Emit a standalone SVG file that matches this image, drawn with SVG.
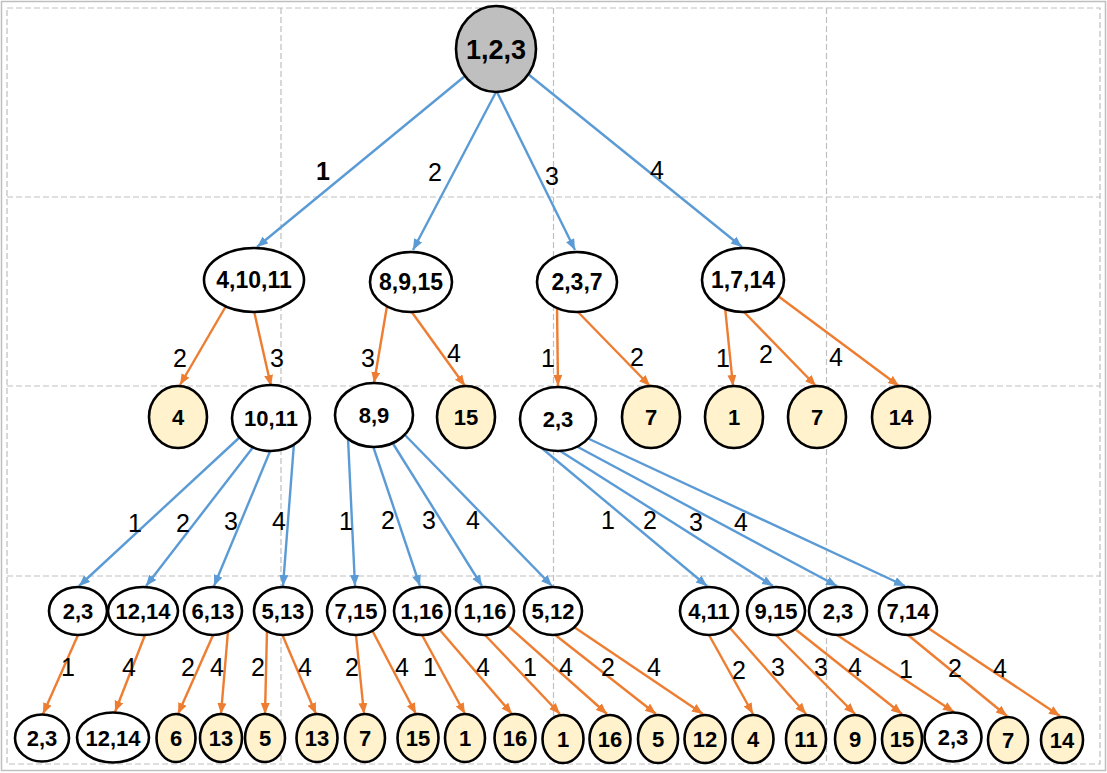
<svg xmlns="http://www.w3.org/2000/svg" width="1107" height="773" viewBox="0 0 1107 773">
  <style>
    .grid { stroke: #BFBFBF; stroke-width: 1.2; stroke-dasharray: 6 3; fill: none; }
    .frame { stroke: #BFBFBF; stroke-width: 1.5; fill: #FFFFFF; }
    .node { stroke: #000000; stroke-width: 2.6; fill: #FFFFFF; }
    .leaf { stroke: #000000; stroke-width: 2.6; fill: #FFF2CC; }
    .root { stroke: #000000; stroke-width: 2.6; fill: #BFBFBF; }
    .blue { stroke: #5B9BD5; stroke-width: 2.4; fill: none; marker-end: url(#arrowBlue); }
    .orange { stroke: #ED7D31; stroke-width: 2.4; fill: none; marker-end: url(#arrowOrange); }
    text { font-family: "Liberation Sans", Arial, sans-serif; fill: #000000; text-anchor: middle; }
    .lbl { font-weight: bold; }
    .edge { font-size: 25px; }
    .l1 { font-size: 23px; }
    .l2 { font-size: 22px; }
    .l3 { font-size: 22px; }
  </style>
  <defs>
    <marker id="arrowBlue" markerUnits="userSpaceOnUse" markerWidth="12" markerHeight="10" refX="11" refY="4.5" orient="auto">
      <path d="M0,0 L11,4.5 L0,9 z" fill="#5B9BD5"/>
    </marker>
    <marker id="arrowOrange" markerUnits="userSpaceOnUse" markerWidth="12" markerHeight="10" refX="11" refY="4.5" orient="auto">
      <path d="M0,0 L11,4.5 L0,9 z" fill="#ED7D31"/>
    </marker>
  </defs>

  <!-- background frame and dashed layout grid -->
  <g id="grid">
    <rect class="frame" x="1.5" y="1.5" width="1104" height="769"/>
    <rect class="grid" x="7" y="8" width="1093" height="756"/>
    <line class="grid" x1="7" y1="197" x2="1100" y2="197"/>
    <line class="grid" x1="7" y1="386" x2="1100" y2="386"/>
    <line class="grid" x1="7" y1="576" x2="1100" y2="576"/>
    <line class="grid" x1="281" y1="8" x2="281" y2="764"/>
    <line class="grid" x1="553.5" y1="8" x2="553.5" y2="764"/>
    <line class="grid" x1="826.5" y1="8" x2="826.5" y2="764"/>
  </g>

  <!-- connectors -->
  <g id="connectors">
    <!-- root to level 1 -->
    <line class="blue" x1="465" y1="76" x2="257" y2="247"/>
    <line class="blue" x1="496" y1="92" x2="413" y2="250"/>
    <line class="blue" x1="497" y1="92" x2="575" y2="250"/>
    <line class="blue" x1="528" y1="74" x2="742" y2="247"/>
    <!-- level 1 to level 2 -->
    <line class="orange" x1="226" y1="306" x2="180" y2="385"/>
    <line class="orange" x1="254" y1="311" x2="271" y2="386"/>
    <line class="orange" x1="387" y1="306" x2="374" y2="383"/>
    <line class="orange" x1="411" y1="311" x2="465" y2="386"/>
    <line class="orange" x1="557" y1="306" x2="558" y2="386"/>
    <line class="orange" x1="577" y1="311" x2="650" y2="386"/>
    <line class="orange" x1="725" y1="307" x2="733" y2="386"/>
    <line class="orange" x1="743" y1="311" x2="816" y2="386"/>
    <line class="orange" x1="778" y1="296" x2="899" y2="386"/>
    <!-- level 2 to level 3 -->
    <line class="blue" x1="240" y1="437" x2="79" y2="586"/>
    <line class="blue" x1="254" y1="446" x2="146" y2="586"/>
    <line class="blue" x1="271" y1="449" x2="214" y2="586"/>
    <line class="blue" x1="294" y1="443" x2="283" y2="586"/>
    <line class="blue" x1="348" y1="438" x2="355" y2="586"/>
    <line class="blue" x1="373" y1="446" x2="420" y2="586"/>
    <line class="blue" x1="392" y1="442" x2="482" y2="586"/>
    <line class="blue" x1="404" y1="434" x2="552" y2="586"/>
    <line class="blue" x1="538" y1="445" x2="707" y2="586"/>
    <line class="blue" x1="557" y1="449" x2="773" y2="586"/>
    <line class="blue" x1="576" y1="446" x2="837" y2="586"/>
    <line class="blue" x1="587" y1="438" x2="905" y2="586"/>
    <!-- level 3 to level 4 -->
    <line class="orange" x1="78" y1="635" x2="43" y2="714"/>
    <line class="orange" x1="145" y1="635" x2="115" y2="712"/>
    <line class="orange" x1="214" y1="633" x2="178" y2="714"/>
    <line class="orange" x1="228" y1="631" x2="221" y2="714"/>
    <line class="orange" x1="267" y1="630" x2="265" y2="714"/>
    <line class="orange" x1="282" y1="634" x2="316" y2="714"/>
    <line class="orange" x1="356" y1="635" x2="364" y2="714"/>
    <line class="orange" x1="372" y1="630" x2="416" y2="714"/>
    <line class="orange" x1="422" y1="635" x2="465" y2="714"/>
    <line class="orange" x1="439" y1="629" x2="512" y2="714"/>
    <line class="orange" x1="485" y1="635" x2="560" y2="714"/>
    <line class="orange" x1="507" y1="625" x2="607" y2="714"/>
    <line class="orange" x1="554" y1="634" x2="656" y2="714"/>
    <line class="orange" x1="574" y1="627" x2="703" y2="714"/>
    <line class="orange" x1="709" y1="635" x2="753" y2="714"/>
    <line class="orange" x1="730" y1="628" x2="806" y2="714"/>
    <line class="orange" x1="776" y1="635" x2="855" y2="714"/>
    <line class="orange" x1="795" y1="629" x2="902" y2="714"/>
    <line class="orange" x1="837" y1="635" x2="954" y2="712"/>
    <line class="orange" x1="908" y1="635" x2="1007" y2="716"/>
    <line class="orange" x1="928" y1="628" x2="1060" y2="716"/>

    <!-- edge labels -->
    <g class="edge">
      <text x="323" y="180" font-weight="bold">1</text>
      <text x="435" y="181">2</text>
      <text x="552" y="185">3</text>
      <text x="657" y="179">4</text>

      <text x="180" y="367">2</text>
      <text x="277" y="367">3</text>
      <text x="368" y="367">3</text>
      <text x="454" y="362">4</text>
      <text x="548" y="367">1</text>
      <text x="637" y="366">2</text>
      <text x="723" y="367">1</text>
      <text x="766" y="363">2</text>
      <text x="836" y="366">4</text>

      <text x="135" y="532">1</text>
      <text x="183" y="532">2</text>
      <text x="231" y="530">3</text>
      <text x="279" y="530">4</text>
      <text x="346" y="530">1</text>
      <text x="388" y="529">2</text>
      <text x="429" y="529">3</text>
      <text x="473" y="529">4</text>
      <text x="608" y="529">1</text>
      <text x="650" y="529">2</text>
      <text x="696" y="531">3</text>
      <text x="741" y="531">4</text>

      <text x="68" y="676">1</text>
      <text x="129" y="676">4</text>
      <text x="188" y="676">2</text>
      <text x="217" y="676">4</text>
      <text x="258" y="676">2</text>
      <text x="305" y="676">4</text>
      <text x="352" y="676">2</text>
      <text x="402" y="676">4</text>
      <text x="430" y="676">1</text>
      <text x="483" y="676">4</text>
      <text x="530" y="676">1</text>
      <text x="566" y="676">4</text>
      <text x="608" y="676">2</text>
      <text x="654" y="676">4</text>
      <text x="739" y="679">2</text>
      <text x="778" y="676">3</text>
      <text x="821" y="676">3</text>
      <text x="855" y="676">4</text>
      <text x="906" y="678">1</text>
      <text x="955" y="677">2</text>
      <text x="1000" y="677">4</text>
    </g>
  </g>

  <!-- root -->
  <g id="n-root">
    <ellipse class="root" cx="496" cy="49" rx="40" ry="43"/>
    <text class="lbl" x="496" y="59" font-size="27">1,2,3</text>
  </g>

  <!-- level 1 -->
  <g id="n-4-10-11"><ellipse class="node" cx="254" cy="280" rx="50" ry="32"/><text class="lbl l1" x="254" y="288">4,10,11</text></g>
  <g id="n-8-9-15"><ellipse class="node" cx="411" cy="282" rx="41" ry="30"/><text class="lbl l1" x="411" y="290">8,9,15</text></g>
  <g id="n-2-3-7"><ellipse class="node" cx="577" cy="282" rx="40" ry="30"/><text class="lbl l1" x="577" y="290">2,3,7</text></g>
  <g id="n-1-7-14"><ellipse class="node" cx="743" cy="280" rx="41" ry="32"/><text class="lbl l1" x="743" y="288">1,7,14</text></g>

  <!-- level 2 -->
  <g id="n-l2-4"><ellipse class="leaf" cx="178" cy="417" rx="29" ry="31"/><text class="lbl l2" x="178" y="425">4</text></g>
  <g id="n-10-11"><ellipse class="node" cx="271" cy="418" rx="39" ry="33"/><text class="lbl l2" x="271" y="426">10,11</text></g>
  <g id="n-8-9"><ellipse class="node" cx="374" cy="415" rx="39" ry="32"/><text class="lbl l2" x="374" y="423">8,9</text></g>
  <g id="n-l2-15"><ellipse class="leaf" cx="466" cy="417" rx="29" ry="31"/><text class="lbl l2" x="466" y="425">15</text></g>
  <g id="n-l2-2-3"><ellipse class="node" cx="558" cy="419" rx="38" ry="32"/><text class="lbl l2" x="558" y="427">2,3</text></g>
  <g id="n-l2-7a"><ellipse class="leaf" cx="651" cy="417" rx="29" ry="31"/><text class="lbl l2" x="651" y="425">7</text></g>
  <g id="n-l2-1"><ellipse class="leaf" cx="734" cy="417" rx="29" ry="31"/><text class="lbl l2" x="734" y="425">1</text></g>
  <g id="n-l2-7b"><ellipse class="leaf" cx="817" cy="417" rx="29" ry="31"/><text class="lbl l2" x="817" y="425">7</text></g>
  <g id="n-l2-14"><ellipse class="leaf" cx="901" cy="417" rx="29" ry="31"/><text class="lbl l2" x="901" y="425">14</text></g>

  <!-- level 3 -->
  <g id="n-l3-2-3a"><ellipse class="node" cx="78" cy="611" rx="29" ry="24"/><text class="lbl l3" x="78" y="619">2,3</text></g>
  <g id="n-l3-12-14"><ellipse class="node" cx="143" cy="611" rx="35" ry="24"/><text class="lbl l3" x="143" y="619">12,14</text></g>
  <g id="n-l3-6-13"><ellipse class="node" cx="213" cy="611" rx="29" ry="24"/><text class="lbl l3" x="213" y="619">6,13</text></g>
  <g id="n-l3-5-13"><ellipse class="node" cx="283" cy="611" rx="29" ry="24"/><text class="lbl l3" x="283" y="619">5,13</text></g>
  <g id="n-l3-7-15"><ellipse class="node" cx="356" cy="611" rx="29" ry="24"/><text class="lbl l3" x="356" y="619">7,15</text></g>
  <g id="n-l3-1-16a"><ellipse class="node" cx="422" cy="611" rx="28" ry="24"/><text class="lbl l3" x="422" y="619">1,16</text></g>
  <g id="n-l3-1-16b"><ellipse class="node" cx="485" cy="611" rx="29" ry="24"/><text class="lbl l3" x="485" y="619">1,16</text></g>
  <g id="n-l3-5-12"><ellipse class="node" cx="553" cy="611" rx="29" ry="24"/><text class="lbl l3" x="553" y="619">5,12</text></g>
  <g id="n-l3-4-11"><ellipse class="node" cx="709" cy="611" rx="29" ry="24"/><text class="lbl l3" x="709" y="619">4,11</text></g>
  <g id="n-l3-9-15"><ellipse class="node" cx="776" cy="611" rx="29" ry="24"/><text class="lbl l3" x="776" y="619">9,15</text></g>
  <g id="n-l3-2-3b"><ellipse class="node" cx="838" cy="611" rx="29" ry="24"/><text class="lbl l3" x="838" y="619">2,3</text></g>
  <g id="n-l3-7-14"><ellipse class="node" cx="908" cy="611" rx="29" ry="24"/><text class="lbl l3" x="908" y="619">7,14</text></g>

  <!-- level 4 -->
  <g id="n-l4-2-3a"><ellipse class="node" cx="42" cy="738" rx="27" ry="23.5"/><text class="lbl l3" x="42" y="746">2,3</text></g>
  <g id="n-l4-12-14"><ellipse class="node" cx="113" cy="737.5" rx="36" ry="25"/><text class="lbl l3" x="113" y="745.5">12,14</text></g>
  <g id="n-l4-6"><ellipse class="leaf" cx="176" cy="738" rx="19.5" ry="24"/><text class="lbl l3" x="176" y="746">6</text></g>
  <g id="n-l4-13a"><ellipse class="leaf" cx="221" cy="738" rx="21" ry="24"/><text class="lbl l3" x="221" y="746">13</text></g>
  <g id="n-l4-5a"><ellipse class="leaf" cx="265" cy="738" rx="20" ry="24"/><text class="lbl l3" x="265" y="746">5</text></g>
  <g id="n-l4-13b"><ellipse class="leaf" cx="317" cy="738" rx="20.5" ry="24"/><text class="lbl l3" x="317" y="746">13</text></g>
  <g id="n-l4-7a"><ellipse class="leaf" cx="365" cy="738" rx="20" ry="24"/><text class="lbl l3" x="365" y="746">7</text></g>
  <g id="n-l4-15a"><ellipse class="leaf" cx="418" cy="738" rx="20.5" ry="24"/><text class="lbl l3" x="418" y="746">15</text></g>
  <g id="n-l4-1a"><ellipse class="leaf" cx="465" cy="738" rx="20" ry="24"/><text class="lbl l3" x="465" y="746">1</text></g>
  <g id="n-l4-16a"><ellipse class="leaf" cx="515" cy="738" rx="20.5" ry="24"/><text class="lbl l3" x="515" y="746">16</text></g>
  <g id="n-l4-1b"><ellipse class="leaf" cx="563" cy="739" rx="20.5" ry="24"/><text class="lbl l3" x="563" y="747">1</text></g>
  <g id="n-l4-16b"><ellipse class="leaf" cx="610" cy="739" rx="20.5" ry="24"/><text class="lbl l3" x="610" y="747">16</text></g>
  <g id="n-l4-5b"><ellipse class="leaf" cx="658" cy="739" rx="20" ry="24"/><text class="lbl l3" x="658" y="747">5</text></g>
  <g id="n-l4-12"><ellipse class="leaf" cx="705" cy="739" rx="20.5" ry="24"/><text class="lbl l3" x="705" y="747">12</text></g>
  <g id="n-l4-4"><ellipse class="leaf" cx="753" cy="739" rx="20.5" ry="24"/><text class="lbl l3" x="753" y="747">4</text></g>
  <g id="n-l4-11"><ellipse class="leaf" cx="806" cy="739" rx="20" ry="24"/><text class="lbl l3" x="806" y="747">11</text></g>
  <g id="n-l4-9"><ellipse class="leaf" cx="855" cy="739" rx="20" ry="24"/><text class="lbl l3" x="855" y="747">9</text></g>
  <g id="n-l4-15b"><ellipse class="leaf" cx="902" cy="739" rx="20" ry="24"/><text class="lbl l3" x="902" y="747">15</text></g>
  <g id="n-l4-2-3b"><ellipse class="node" cx="953" cy="737" rx="28.5" ry="24.5"/><text class="lbl l3" x="953" y="745">2,3</text></g>
  <g id="n-l4-7b"><ellipse class="leaf" cx="1008" cy="740" rx="20" ry="23"/><text class="lbl l3" x="1008" y="748">7</text></g>
  <g id="n-l4-14"><ellipse class="leaf" cx="1062" cy="740" rx="21" ry="23"/><text class="lbl l3" x="1062" y="748">14</text></g>
</svg>
